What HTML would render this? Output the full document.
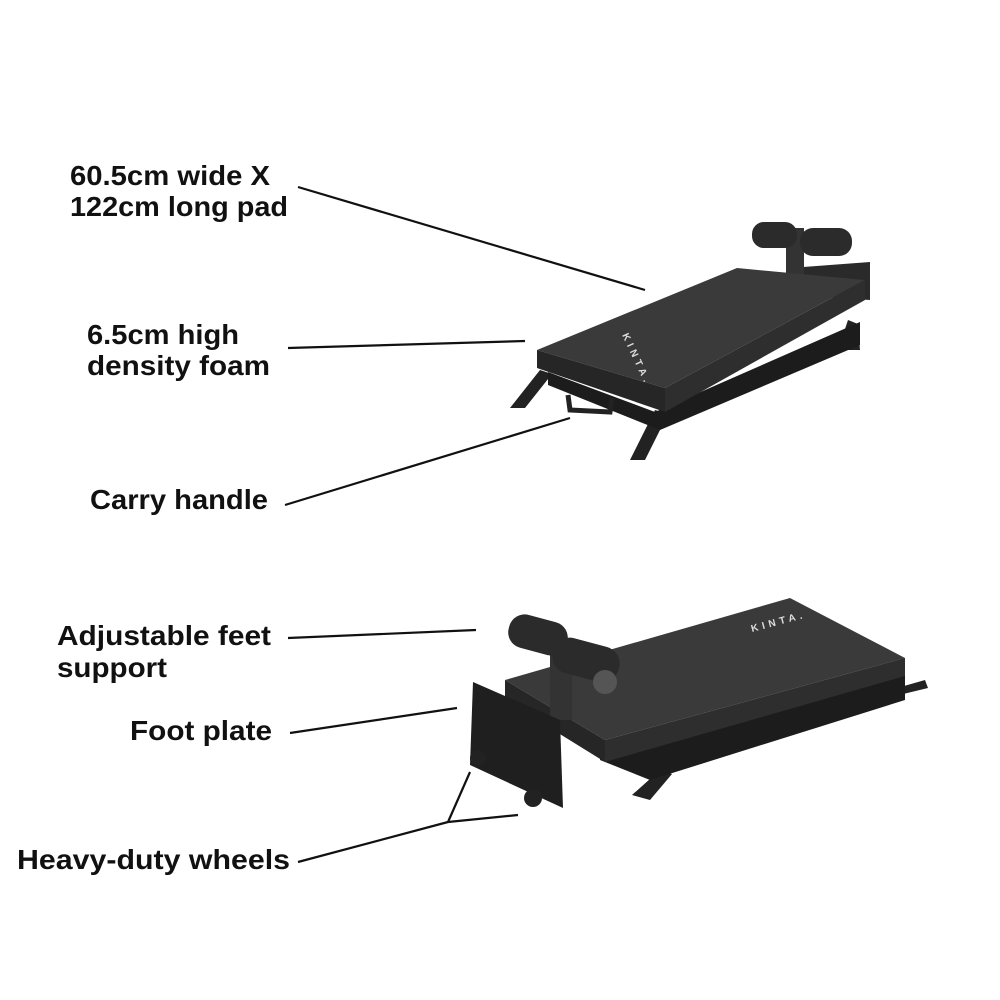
<!DOCTYPE html>
<html><head><style>
html,body{margin:0;padding:0;background:#fff;}
svg{display:block}
text{font-family:"Liberation Sans",sans-serif;font-weight:bold;font-size:28px;fill:#111;}
</style></head><body>
<svg width="1000" height="1000" viewBox="0 0 1000 1000">
<!-- labels -->
<text x="70" y="185" textLength="200" lengthAdjust="spacingAndGlyphs">60.5cm wide X</text>
<text x="70" y="216" textLength="218" lengthAdjust="spacingAndGlyphs">122cm long pad</text>
<text x="87" y="344" textLength="152" lengthAdjust="spacingAndGlyphs">6.5cm high</text>
<text x="87" y="375" textLength="183" lengthAdjust="spacingAndGlyphs">density foam</text>
<text x="90" y="509" textLength="178" lengthAdjust="spacingAndGlyphs">Carry handle</text>
<text x="57" y="645" textLength="214" lengthAdjust="spacingAndGlyphs">Adjustable feet</text>
<text x="57" y="677" textLength="110" lengthAdjust="spacingAndGlyphs">support</text>
<text x="130" y="740" textLength="142" lengthAdjust="spacingAndGlyphs">Foot plate</text>
<text x="17" y="869" textLength="273" lengthAdjust="spacingAndGlyphs">Heavy-duty wheels</text>
<g stroke="#111" stroke-width="2.2" fill="none">
<line x1="298" y1="187" x2="645" y2="290"/>
<line x1="288" y1="348" x2="525" y2="341"/>
<line x1="285" y1="505" x2="570" y2="418"/>
<line x1="288" y1="638" x2="476" y2="630"/>
<line x1="290" y1="733" x2="457" y2="708"/>
<line x1="298" y1="862" x2="448" y2="822"/>
<line x1="448" y1="822" x2="518" y2="815"/>
<line x1="448" y1="822" x2="470" y2="772"/>
</g>
<!-- bench 1 -->
<g>
<polygon points="510,408 540,370 552,374 525,408" fill="#222"/>
<polygon points="630,460 655,410 668,414 645,460" fill="#222"/>
<polygon points="838,350 848,320 858,324 860,350" fill="#222"/>
<polygon points="548,372 655,412 860,322 860,345 660,430 548,385" fill="#1c1c1c"/>
<path d="M568,395 L570,410 L610,412 L612,398" stroke="#222" stroke-width="5" fill="none"/>
<polygon points="790,268 870,262 870,300 790,295" fill="#2a2a2a"/>
<rect x="786" y="228" width="18" height="60" fill="#333"/>
<rect x="752" y="222" width="45" height="26" rx="12" fill="#2b2b2b"/>
<rect x="800" y="228" width="52" height="28" rx="13" fill="#2b2b2b"/>
<polygon points="537,350 737,268 865,280 665,388" fill="#3a3a3a"/>
<polygon points="537,350 665,388 665,412 537,368" fill="#262626"/>
<polygon points="665,388 865,280 865,300 665,412" fill="#2e2e2e"/>
</g>
<!-- bench 2 -->
<g>
<polygon points="632,795 660,770 672,774 650,800" fill="#222"/>
<polygon points="890,690 925,680 928,688 895,696" fill="#222"/>
<polygon points="600,745 905,658 905,700 650,780 600,760" fill="#1c1c1c"/>
<polygon points="505,680 790,598 905,658 605,740" fill="#3a3a3a"/>
<polygon points="505,680 605,740 605,762 505,700" fill="#262626"/>
<polygon points="605,740 905,658 905,676 605,762" fill="#2e2e2e"/>
<rect x="550" y="650" width="22" height="70" fill="#333"/>
<rect x="508" y="618" width="60" height="34" rx="16" fill="#2b2b2b" transform="rotate(15 538 635)"/>
<rect x="552" y="642" width="68" height="36" rx="17" fill="#2b2b2b" transform="rotate(15 586 660)"/>
<circle cx="605" cy="682" r="12" fill="#555"/>
<polygon points="473,682 560,720 563,808 470,765" fill="#1f1f1f"/>
<circle cx="478" cy="758" r="8" fill="#222"/>
<circle cx="533" cy="798" r="9" fill="#222"/>
</g>
<text x="752" y="632" style="font-size:10px;fill:#ddd;letter-spacing:4px" transform="rotate(-15 752 632)">KINTA.</text>
<text x="622" y="335" style="font-size:10px;fill:#ddd;letter-spacing:4px" transform="rotate(65 622 335)">KINTA.</text>
</svg>
</body></html>
